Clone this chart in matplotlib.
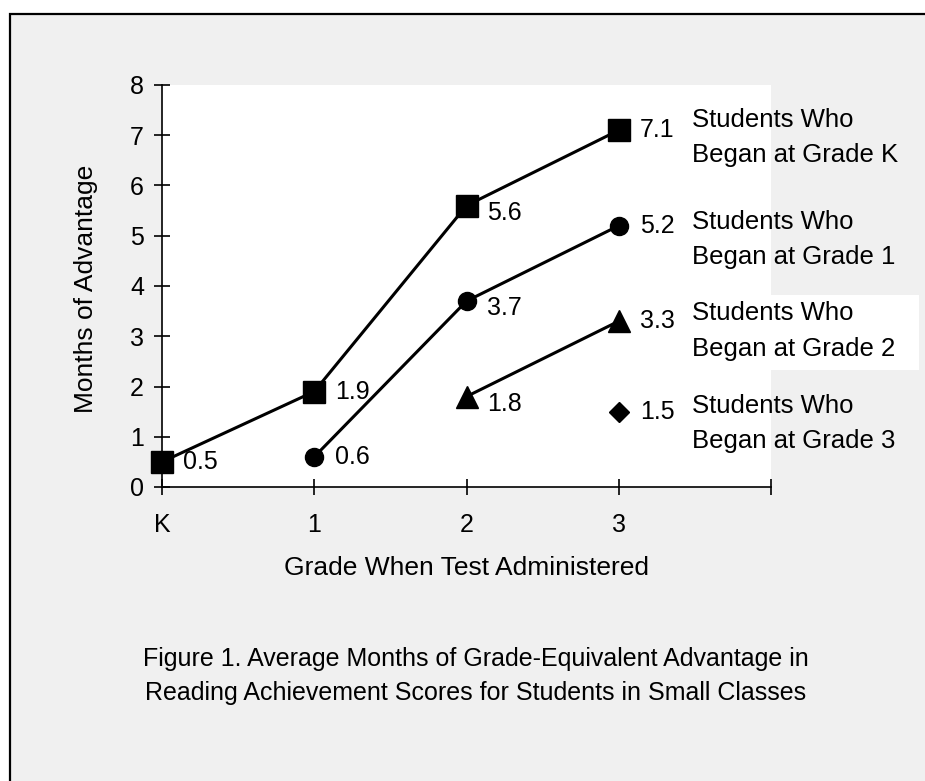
import matplotlib.pyplot as plt
from matplotlib.patches import Rectangle

plt.rcParams['font.family'] = ['Liberation Sans', 'DejaVu Sans']

# Data
grades = [0, 1, 2, 3]
grade_labels = ['K', '1', '2', '3', '']
began_k = [0.5, 1.9, 5.6, 7.1]
began_1 = [0.6, 3.7, 5.2]
began_2 = [1.8, 3.3]
began_3 = [1.5]
series = [
    (grades[0:], began_k, 's', 16, 'Students Who\nBegan at Grade K'),
    (grades[1:], began_1, 'o', 13, 'Students Who\nBegan at Grade 1'),
    (grades[2:], began_2, '^', 16, 'Students Who\nBegan at Grade 2'),
    (grades[3:], began_3, 'D', 10, 'Students Who\nBegan at Grade 3'),
]
series_label_dy = [7, 14, 10, 12]  # pixels down from last marker

fig = plt.figure(figsize=(9.25, 7.81), dpi=100, facecolor='white')
W, H = 925, 781

# gray panel with black border on top/left
fig.patches.append(Rectangle((10 / W, -0.1), 1.2, (781 - 14) / H + 0.1,
                             transform=fig.transFigure, facecolor='#f0f0f0',
                             edgecolor='black', linewidth=1.6, zorder=-2))
# white box behind the grade 2 label
fig.patches.append(Rectangle((690 / W, (H - 370) / H), (919 - 690) / W, 75 / H,
                             transform=fig.transFigure, facecolor='white',
                             edgecolor='none', zorder=-1))

ax = fig.add_axes([162 / W, (H - 487) / H, (771 - 162) / W, (487 - 85) / H])
ax.set_zorder(1)
ax.set_facecolor('white')
ax.set_xlim(0, 4)
ax.set_ylim(0, 8)
for s in ['top', 'right']:
    ax.spines[s].set_visible(False)
for s in ['left', 'bottom']:
    ax.spines[s].set_linewidth(1.2)
ax.set_xticks(range(5))
ax.set_xticklabels(grade_labels)
ax.set_yticks(range(9))
ax.tick_params(axis='both', direction='inout', length=12, width=1.2,
               labelsize=18)
ax.tick_params(axis='x', pad=13)
ax.tick_params(axis='y', pad=7)

for i, (xs, ys, mk, ms, name) in enumerate(series):
    ax.plot(xs, ys, color='black', lw=2.2, marker=mk, ms=ms,
            clip_on=False, zorder=5)
    for x, y in zip(xs, ys):
        dy = -7 if (x == 2 and len(xs) > 1) else 0
        ax.annotate(f'{y:.1f}', (x, y), xytext=(21, dy),
                    textcoords='offset pixels', ha='left', va='center',
                    fontsize=18, annotation_clip=False)
    ax.annotate(name, (xs[-1], ys[-1]), xytext=(73, -series_label_dy[i]),
                textcoords='offset pixels', ha='left', va='center',
                fontsize=18.5, linespacing=1.6, annotation_clip=False)

fig.text(86 / W, (H - 289) / H, 'Months of Advantage', rotation=90,
         ha='center', va='center', fontsize=19)
fig.text(467 / W, (H - 568) / H, 'Grade When Test Administered',
         ha='center', va='center', fontsize=19)
fig.text(476 / W, (H - 676) / H,
         'Figure 1. Average Months of Grade-Equivalent Advantage in\n'
         'Reading Achievement Scores for Students in Small Classes',
         ha='center', va='center', fontsize=18, linespacing=1.55)

fig.savefig('out.png', dpi=100)
